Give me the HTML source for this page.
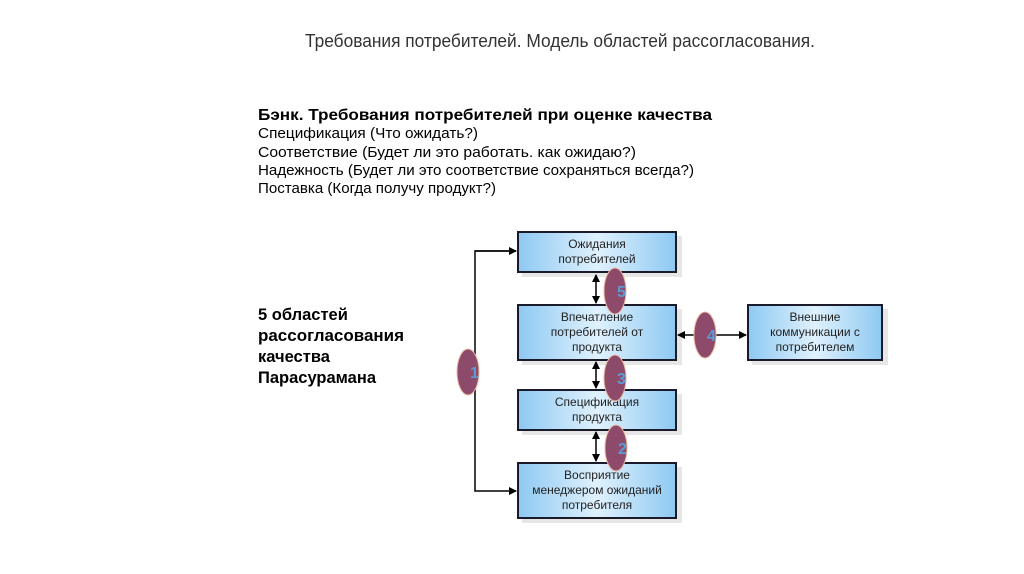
<!DOCTYPE html>
<html><head><meta charset="utf-8"><style>body{margin:0;background:#fff}svg{display:block}</style></head><body>
<svg width="1024" height="574" xmlns="http://www.w3.org/2000/svg" font-family="Liberation Sans, sans-serif">
<defs>
<linearGradient id="g" x1="0" y1="0" x2="1" y2="0">
<stop offset="0" stop-color="#8ec9f2"/><stop offset="0.5" stop-color="#dff1fd"/><stop offset="1" stop-color="#8ec9f2"/>
</linearGradient>
<marker id="a" markerWidth="8" markerHeight="8" refX="7" refY="4" orient="auto-start-reverse" markerUnits="userSpaceOnUse"><path d="M0,0 L8,4 L0,8z" fill="#000"/></marker>
</defs>
<text x="305" y="47" font-size="18" fill="#333" textLength="510" lengthAdjust="spacingAndGlyphs">Требования потребителей. Модель областей рассогласования.</text>
<text x="258" y="120" font-size="16" font-weight="bold" textLength="454" lengthAdjust="spacingAndGlyphs">Бэнк. Требования потребителей при оценке качества</text>
<g font-size="15">
<text x="258" y="138" textLength="220" lengthAdjust="spacingAndGlyphs">Спецификация  (Что ожидать?)</text>
<text x="258" y="157" textLength="378" lengthAdjust="spacingAndGlyphs">Соответствие  (Будет ли  это  работать. как  ожидаю?)</text>
<text x="258" y="175" textLength="436" lengthAdjust="spacingAndGlyphs">Надежность  (Будет ли это соответствие сохраняться всегда?)</text>
<text x="258" y="193" textLength="238" lengthAdjust="spacingAndGlyphs">Поставка (Когда получу продукт?)</text>
</g>
<g font-size="16.5" font-weight="bold">
<text x="258" y="320">5 областей</text>
<text x="258" y="341" textLength="146" lengthAdjust="spacingAndGlyphs">рассогласования</text>
<text x="258" y="362">качества</text>
<text x="258" y="383">Парасурамана</text>
</g>
<g fill="#e6e6e6">
<rect x="522" y="236" width="160" height="41"/><rect x="522" y="309" width="160" height="56"/>
<rect x="522" y="394" width="160" height="41"/><rect x="522" y="467" width="160" height="56"/>
<rect x="752" y="309" width="136" height="56"/>
</g>
<g fill="url(#g)" stroke="#1a1a2a" stroke-width="2">
<rect x="518" y="232" width="158" height="40"/><rect x="518" y="305" width="158" height="55"/>
<rect x="518" y="390" width="158" height="40"/><rect x="518" y="463" width="158" height="55"/>
<rect x="748" y="305" width="134" height="55"/>
</g>
<g stroke="#000" stroke-width="1.5" fill="none">
<path d="M516,251 H475 V491 H516" marker-end="url(#a)"/>
<path d="M475,251 H516" marker-end="url(#a)"/>
<line x1="596" y1="275" x2="596" y2="303" marker-start="url(#a)" marker-end="url(#a)"/>
<line x1="596" y1="362" x2="596" y2="388" marker-start="url(#a)" marker-end="url(#a)"/>
<line x1="596" y1="432" x2="596" y2="461" marker-start="url(#a)" marker-end="url(#a)"/>
<line x1="678" y1="335" x2="746" y2="335" marker-start="url(#a)" marker-end="url(#a)"/>
</g>
<g font-size="12" text-anchor="middle" fill="#222">
<text x="597" y="248">Ожидания</text><text x="597" y="263">потребителей</text>
<text x="597" y="321">Впечатление</text><text x="597" y="336">потребителей от</text><text x="597" y="351">продукта</text>
<text x="597" y="406">Спецификация</text><text x="597" y="421">продукта</text>
<text x="597" y="479">Восприятие</text><text x="597" y="494">менеджером ожиданий</text><text x="597" y="509">потребителя</text>
<text x="815" y="321">Внешние</text><text x="815" y="336">коммуникации с</text><text x="815" y="351">потребителем</text>
</g>
<g fill="#8e4a6a" stroke="#e8b8a0" stroke-width="1">
<ellipse cx="615" cy="291" rx="11" ry="23"/><ellipse cx="705" cy="335" rx="11" ry="23"/>
<ellipse cx="468" cy="372" rx="11" ry="23"/><ellipse cx="615" cy="378" rx="11" ry="23"/>
<ellipse cx="616" cy="448" rx="11" ry="23"/>
</g>
<g font-size="16" font-weight="bold" fill="#5b9bd5">
<text x="617" y="297">5</text><text x="707" y="341">4</text><text x="470" y="378">1</text>
<text x="617" y="384">3</text><text x="618" y="454">2</text>
</g>
</svg>
</body></html>
